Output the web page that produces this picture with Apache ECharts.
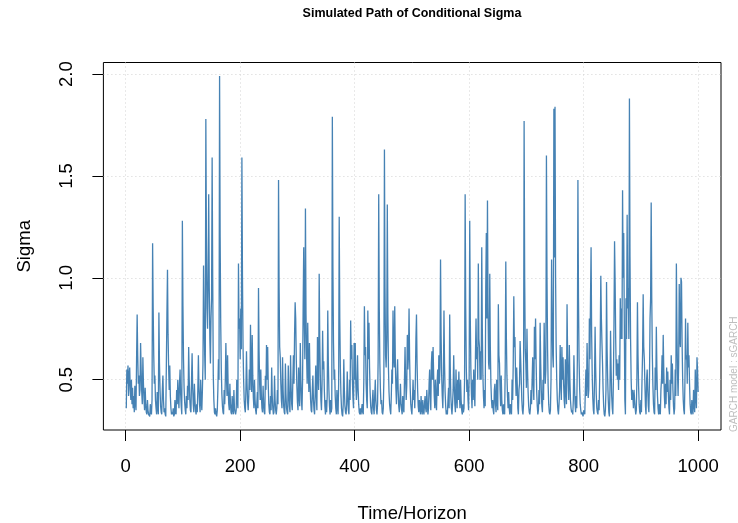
<!DOCTYPE html>
<html>
<head>
<meta charset="utf-8">
<script src="https://cdn.jsdelivr.net/npm/echarts@6/dist/echarts.min.js"></script>
<style>html,body{margin:0;padding:0;background:#fff}#chart{width:738px;height:523px}</style>
</head>
<body>
<div id="chart"></div>
<script>
const chartTitle = 'Simulated Path of Conditional Sigma';
const xLabel = 'Time/Horizon';
const yLabel = 'Sigma';
const sideNote = 'GARCH model : sGARCH';
const xTicks = [0, 200, 400, 600, 800, 1000];
const yTicks = [0.5, 1.0, 1.5, 2.0];
const sigma = [
0.36,0.55,0.48,0.57,0.42,0.52,0.56,0.45,0.40,0.50,0.38,0.46,0.36,0.42,0.34,0.47,0.39,0.35,0.60,0.82,
0.62,0.48,0.52,0.42,0.45,0.68,0.55,0.44,0.38,0.61,0.48,0.40,0.35,0.46,0.38,0.34,0.33,0.40,0.35,0.33,
0.33,0.32,0.38,0.34,0.33,0.40,1.17,0.85,0.62,0.48,0.52,0.40,0.36,0.33,0.44,0.36,0.33,0.83,0.58,0.45,
0.37,0.34,0.33,0.45,0.52,0.40,0.34,0.36,0.33,0.32,0.57,0.82,1.04,0.72,0.56,0.45,0.57,0.42,0.36,0.33,
0.34,0.33,0.36,0.32,0.33,0.40,0.34,0.33,0.45,0.38,0.50,0.42,0.36,0.48,0.55,0.43,0.37,0.33,1.28,0.86,
0.60,0.46,0.39,0.35,0.33,0.42,0.36,0.47,0.40,0.66,0.50,0.40,0.35,0.34,0.50,0.63,0.46,0.38,0.34,0.48,
0.40,0.35,0.33,0.38,0.34,0.45,0.62,0.46,0.38,0.34,0.50,0.40,0.35,0.45,0.58,1.06,0.80,0.62,0.50,1.78,
1.20,0.85,0.75,1.00,1.41,0.95,0.70,0.58,0.80,0.90,1.59,1.00,0.52,0.40,0.34,0.33,0.36,0.33,0.32,0.35,
0.45,0.60,0.50,1.99,1.20,0.78,0.55,0.43,0.37,0.34,0.33,0.45,0.38,0.50,0.68,0.52,0.42,0.62,0.46,0.38,
0.35,0.48,0.38,0.34,0.33,0.42,0.36,0.33,0.45,0.36,0.34,0.33,0.35,0.50,0.40,0.36,1.07,0.75,0.80,0.60,
0.85,0.65,1.59,1.00,0.66,0.50,0.40,0.36,0.34,0.45,0.64,0.48,0.39,0.35,0.42,0.55,0.45,0.77,0.55,0.44,
0.72,0.52,0.41,0.36,0.50,0.40,0.35,0.33,0.38,0.44,0.36,0.95,0.64,0.48,0.40,0.55,0.42,0.36,0.34,0.47,
0.38,0.34,0.33,0.52,0.45,0.67,0.50,0.66,0.48,0.38,0.34,0.33,0.42,0.35,0.56,0.42,0.36,0.33,0.34,0.52,
0.40,0.35,0.33,0.36,0.45,0.38,1.48,0.95,0.66,0.61,0.48,0.40,0.36,0.61,0.45,0.37,0.34,0.33,0.58,0.43,
0.36,0.34,0.33,0.57,0.44,0.37,0.34,0.62,0.46,0.38,0.35,0.50,0.62,0.48,0.72,0.88,0.80,0.60,0.47,0.39,
0.35,0.56,0.43,0.37,0.68,0.50,0.40,0.35,0.50,0.86,1.15,0.78,0.60,1.34,0.82,0.62,0.48,0.78,0.56,0.44,
0.68,0.50,0.40,0.35,0.34,0.45,0.52,0.40,0.35,0.33,0.44,0.57,0.42,0.35,0.71,0.55,0.45,1.02,0.70,0.52,
0.40,0.35,0.48,0.74,0.55,0.59,0.45,0.37,0.33,0.40,0.34,0.42,0.84,0.58,0.45,0.37,0.33,0.40,0.34,0.36,
1.79,1.05,0.68,0.50,0.55,0.42,0.36,0.33,0.45,0.37,0.33,0.48,1.30,0.80,0.56,0.43,0.36,0.33,0.32,0.38,
0.60,0.45,0.37,0.34,0.33,0.38,0.54,0.42,0.35,0.33,0.50,0.40,0.79,0.60,0.67,0.50,0.41,0.36,0.68,0.50,
0.68,0.48,0.40,0.46,0.62,0.46,0.38,0.34,0.33,0.36,0.33,0.35,0.38,0.34,0.33,0.50,0.86,0.62,0.66,0.48,
0.40,0.36,0.84,0.60,0.78,0.56,0.44,0.37,0.34,0.33,0.40,0.45,0.36,0.33,0.42,0.50,0.40,0.35,0.33,0.38,
0.60,1.41,0.85,0.58,0.45,0.38,0.40,0.34,0.33,0.36,0.50,1.63,0.95,0.62,0.56,0.70,1.36,0.82,0.56,0.44,
0.38,0.35,0.33,0.42,0.55,0.48,0.84,0.62,0.56,0.86,0.60,0.46,0.38,0.50,0.60,0.45,0.37,0.34,0.40,0.48,
0.38,0.35,0.33,0.42,0.36,0.34,0.50,0.66,0.50,0.40,0.47,0.72,0.55,0.62,0.85,0.60,0.46,0.38,0.35,0.33,
0.40,0.50,0.40,0.45,0.36,0.50,0.70,0.82,0.58,0.45,0.37,0.34,0.40,0.36,0.33,0.42,0.36,0.33,0.40,0.35,
0.33,0.38,0.42,0.36,0.34,0.45,0.38,0.33,0.36,0.48,0.55,0.42,0.35,0.58,0.64,0.50,0.66,0.52,0.42,0.36,
0.50,0.40,0.35,0.48,0.55,0.42,0.62,0.48,0.56,1.09,0.72,0.52,0.42,0.36,0.50,0.84,0.58,0.44,0.37,0.33,
0.35,0.33,0.40,0.46,0.36,0.82,0.56,0.42,0.36,0.33,0.38,0.45,0.62,0.47,0.38,0.34,0.55,0.42,0.36,0.50,
0.40,0.54,0.42,0.36,0.50,0.40,0.35,0.33,0.38,0.34,0.36,0.50,1.41,0.85,0.56,0.44,0.50,0.40,0.35,0.52,
1.28,0.80,0.55,0.43,0.36,0.50,0.40,0.55,0.45,0.37,0.62,0.80,0.60,0.66,0.50,1.07,0.70,0.66,0.50,0.64,
0.50,1.15,0.75,0.52,0.42,0.36,0.45,0.37,0.95,1.22,0.80,1.38,0.85,0.58,0.55,1.02,0.66,0.48,0.40,0.36,
0.40,0.35,0.33,0.45,0.48,0.38,0.34,0.50,0.40,0.35,0.87,0.62,0.58,0.45,0.37,0.52,0.40,0.35,0.33,0.38,
0.34,0.33,0.56,1.08,0.71,0.52,0.42,0.36,0.44,0.36,0.33,0.38,0.35,0.33,0.50,0.40,0.58,0.91,0.66,0.71,
0.52,0.42,0.56,0.48,0.36,0.33,0.45,0.48,0.69,0.60,0.50,0.40,0.35,0.33,0.38,1.77,1.00,0.65,0.58,0.46,
0.75,0.55,0.44,0.37,0.34,0.33,0.36,0.45,0.38,0.50,0.61,0.48,0.40,0.76,0.60,0.80,0.58,0.44,0.37,0.33,
0.35,0.45,0.38,0.78,0.58,0.45,0.37,0.34,0.50,0.40,0.78,0.60,0.48,0.55,1.60,1.00,0.65,0.47,0.38,0.34,
0.33,0.35,0.50,1.09,0.80,0.62,0.56,1.83,1.10,1.84,1.00,0.66,0.50,0.40,0.35,0.33,0.38,0.45,0.67,0.50,
0.40,0.66,0.50,0.61,0.48,0.40,0.36,0.60,0.46,0.38,0.87,0.62,0.48,0.40,0.67,0.50,0.40,0.36,0.34,0.35,
0.33,0.40,0.62,0.48,0.38,0.34,0.42,0.36,0.60,1.48,0.90,0.60,0.46,0.38,0.35,0.33,0.34,0.33,0.32,0.35,
0.34,0.33,0.45,0.55,0.42,0.68,0.52,0.41,0.45,0.80,0.60,0.90,1.15,0.72,0.52,0.41,0.35,0.33,0.50,0.76,
0.56,0.43,0.36,0.34,0.33,0.40,0.35,0.50,0.70,1.01,0.80,0.68,0.58,0.45,0.37,0.33,0.32,0.35,0.45,0.98,
0.65,0.50,0.40,0.34,0.32,0.45,0.74,0.55,0.42,0.36,0.33,0.50,0.78,1.18,0.98,0.70,0.52,0.60,0.50,0.58,
0.45,0.62,0.50,0.90,0.70,0.85,0.70,1.43,1.00,1.22,0.80,0.40,0.33,0.90,0.70,1.31,0.85,0.95,0.70,1.88,
1.10,0.70,0.50,0.40,0.45,0.42,0.36,0.45,0.40,0.36,0.33,0.35,0.50,0.88,0.62,0.47,0.38,0.34,0.33,0.40,
0.34,0.50,0.64,0.92,0.66,0.60,0.48,0.37,0.33,0.50,0.55,0.45,0.37,0.34,0.50,0.80,0.90,1.37,0.90,0.62,
0.47,0.38,0.34,0.33,0.56,0.45,0.76,0.55,0.42,0.36,0.33,0.38,0.34,0.33,0.45,0.50,0.62,0.48,0.72,0.55,
0.42,0.36,0.48,0.38,0.56,0.44,0.54,0.43,0.36,0.33,0.50,0.40,0.62,0.48,0.58,0.45,0.37,0.33,0.36,0.55,
0.42,1.07,0.75,0.53,0.42,0.58,0.97,0.70,0.66,1.00,0.98,0.68,0.50,0.40,0.35,0.33,0.50,0.80,0.60,0.62,
0.48,0.78,0.56,0.62,0.48,0.38,0.34,0.33,0.40,0.35,0.33,0.45,0.38,0.34,0.55,0.42,0.36,0.61,0.55,0.44
];
const timeIndex = sigma.map((_, i) => i + 1);

const FONT = '"Liberation Sans", Arial, Helvetica, sans-serif';
const chart = echarts.init(document.getElementById('chart'), null, {renderer: 'canvas'});

// R-style 4% axis extension
const xMin = 1 - 0.04 * (1000 - 1), xMax = 1000 + 0.04 * (1000 - 1);
const sMin = Math.min(...sigma), sMax = Math.max(...sigma);
const yMin = sMin - 0.04 * (sMax - sMin), yMax = sMax + 0.04 * (sMax - sMin);

const gridStyle = {color: '#d3d3d3', width: 1, type: [1, 3]};

chart.setOption({
  animation: false,
  backgroundColor: '#fff',
  grid: {left: 103.4, right: 17, top: 62.5, bottom: 93, containLabel: false, outerBoundsMode: 'none',
         show: true, borderColor: '#000', borderWidth: 1, backgroundColor: 'transparent'},
  xAxis: {
    type: 'value', min: xMin, max: xMax,
    name: xLabel, nameLocation: 'middle', nameGap: 74,
    nameTextStyle: {fontFamily: FONT, fontSize: 18.5, color: '#000'},
    axisLine: {show: false, onZero: false},
    axisTick: {show: true, length: 11, lineStyle: {color: '#000'}, customValues: xTicks},
    axisLabel: {show: true, margin: 27, fontFamily: FONT, fontSize: 18.5, color: '#000', customValues: xTicks, formatter: v => String(v)},
    splitLine: {show: true, lineStyle: gridStyle}
  },
  yAxis: {
    type: 'value', min: yMin, max: yMax,
    name: yLabel, nameLocation: 'middle', nameGap: 69, nameRotate: 90,
    nameTextStyle: {fontFamily: FONT, fontSize: 18.5, color: '#000'},
    axisLine: {show: false, onZero: false},
    axisTick: {show: true, length: 11, lineStyle: {color: '#000'}, customValues: yTicks},
    axisLabel: {show: true, margin: 27, rotate: 90, fontFamily: FONT, fontSize: 18.5, color: '#000', customValues: yTicks, formatter: v => v.toFixed(1)},
    splitLine: {show: true, lineStyle: gridStyle}
  },
  series: [{
    type: 'line',
    data: timeIndex.map((t, i) => [t, sigma[i]]),
    showSymbol: false,
    symbol: 'none',
    lineStyle: {color: '#4682B4', width: 1.3},
    itemStyle: {color: '#4682B4'},
    z: 3
  }],
  graphic: [
    {type: 'text', x: 412, y: 14, style: {text: chartTitle, align: 'center', verticalAlign: 'middle', fontFamily: FONT, fontSize: 12.5, fontWeight: 'bold', fill: '#000'}},
    {type: 'text', x: 734, y: 432, rotation: Math.PI / 2, style: {text: sideNote, align: 'left', verticalAlign: 'middle', fontFamily: FONT, fontSize: 10, fill: '#bebebe'}}
  ]
});
</script>
</body>
</html>
